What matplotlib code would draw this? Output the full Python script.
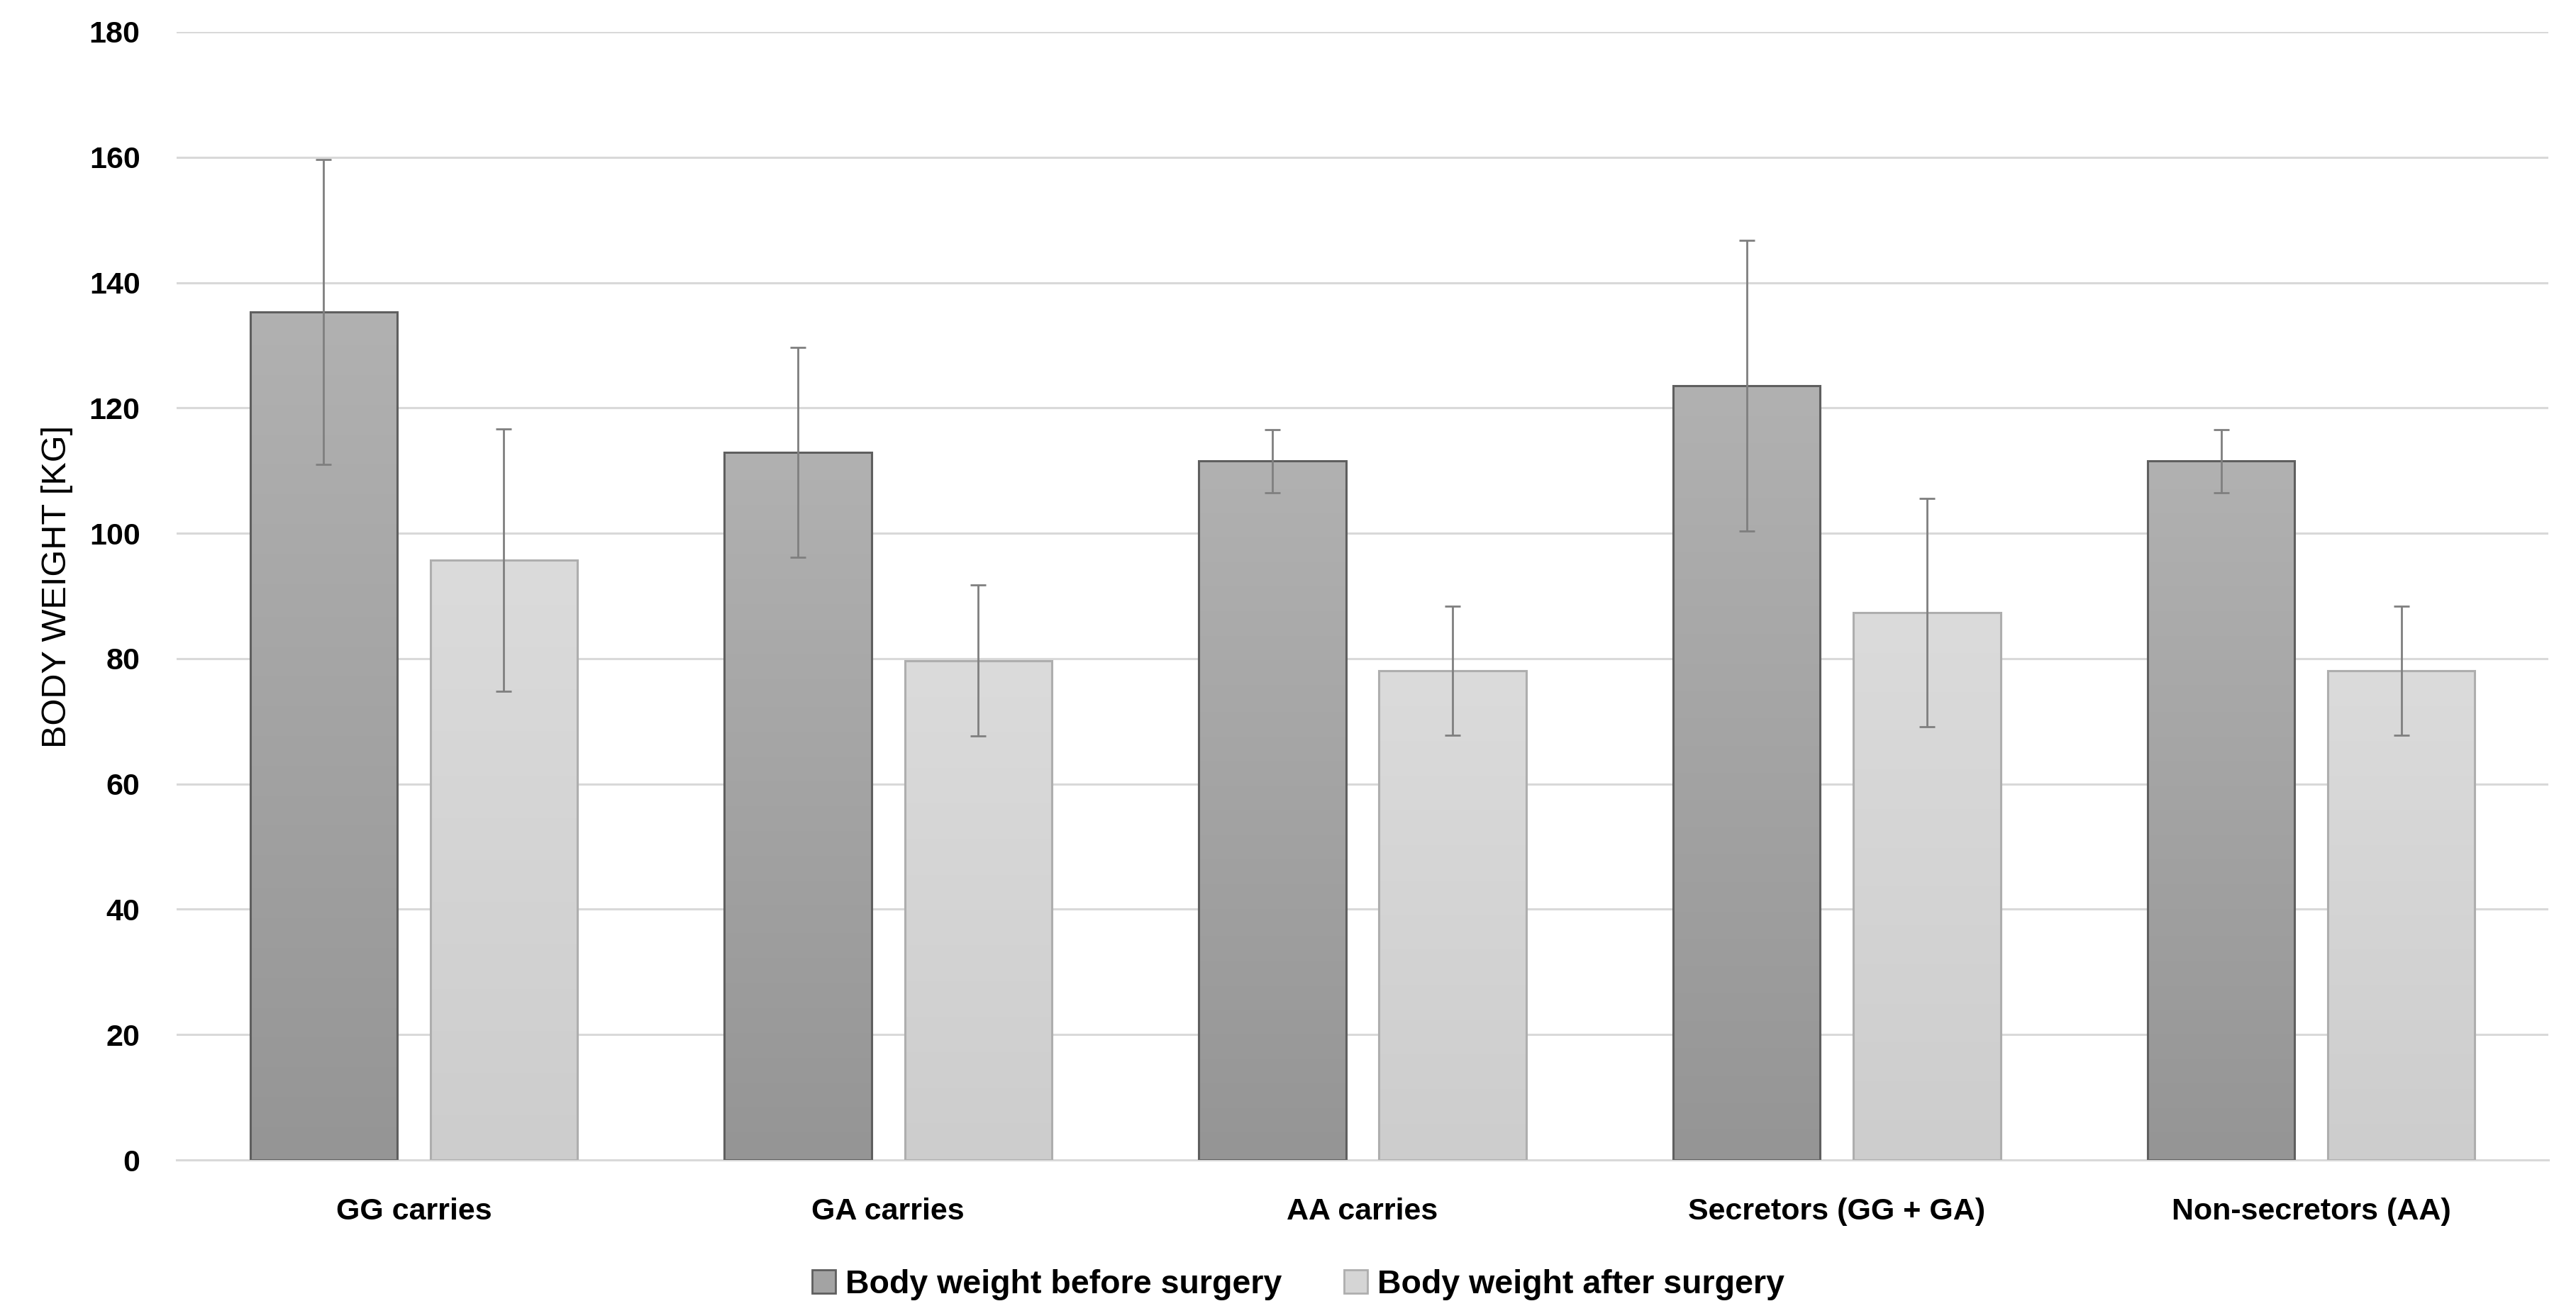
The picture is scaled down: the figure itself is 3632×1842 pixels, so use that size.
import numpy as np
import matplotlib
matplotlib.use('Agg')
import matplotlib.pyplot as plt
from matplotlib.colors import LinearSegmentedColormap
from matplotlib.patches import Patch

plt.rcParams['font.family'] = ['Liberation Sans Narrow', 'Liberation Sans', 'DejaVu Sans']

# data
categories = ['GG carries', 'GA carries', 'AA carries', 'Secretors (GG + GA)', 'Non-secretors (AA)']
before_mean = [135.3, 112.9, 111.5, 123.5, 111.5]
before_sd = [24.3, 16.7, 5.0, 23.2, 5.0]
after_mean = [95.7, 79.7, 78.1, 87.3, 78.1]
after_sd = [20.9, 12.0, 10.3, 18.2, 10.3]
legend_labels = ['Body weight before surgery', 'Body weight after surgery']
yticks = [0, 20, 40, 60, 80, 100, 120, 140, 160, 180]

fig = plt.figure(figsize=(36.32, 18.42), dpi=100)
ax = fig.add_axes([249 / 3632, 1 - 1636 / 1842, (3593 - 249) / 3632, (1636 - 45) / 1842])

x = np.arange(len(categories))
w = 0.31
off = 0.19

cm_before = LinearSegmentedColormap.from_list('b', ['#959595', '#b1b1b1'])
cm_after = LinearSegmentedColormap.from_list('a', ['#cdcdcd', '#dbdbdb'])

bars1 = ax.bar(x - off, before_mean, w, facecolor='none', edgecolor='#5f5f5f', linewidth=2.2, zorder=3)
bars2 = ax.bar(x + off, after_mean, w, facecolor='none', edgecolor='#aeaeae', linewidth=2.2, zorder=3)

# vertical gradient inside each bar
grad = np.linspace(0, 1, 256).reshape(-1, 1)
for bars, cm in [(bars1, cm_before), (bars2, cm_after)]:
    for b in bars:
        x0 = b.get_x()
        h = b.get_height()
        im = ax.imshow(grad, cmap=cm, origin='lower', aspect='auto',
                       extent=[x0, x0 + b.get_width(), 0, h], zorder=2)
        im.set_clip_path(b)

ax.errorbar(x - off, before_mean, yerr=before_sd, fmt='none', ecolor='#7f7f7f',
            elinewidth=2, capsize=8, capthick=2, zorder=4)
ax.errorbar(x + off, after_mean, yerr=after_sd, fmt='none', ecolor='#7f7f7f',
            elinewidth=2, capsize=8, capthick=2, zorder=4)

ax.set_xlim(-0.5, len(categories) - 0.5)
ax.set_ylim(0, 180)
ax.set_yticks(yticks)
ax.set_xticks(x)
ax.set_xticklabels(categories, fontsize=31, fontweight='bold')
ax.set_yticklabels([str(t) for t in yticks], fontsize=31, fontweight='bold')
ax.tick_params(axis='both', length=0)
ax.tick_params(axis='y', pad=37)
ax.tick_params(axis='x', pad=38)

ax.grid(axis='y', color='#d9d9d9', linewidth=2.2, zorder=0)
ax.set_axisbelow(True)
for s in ['top', 'right', 'left']:
    ax.spines[s].set_visible(False)
ax.spines['bottom'].set_color('#d9d9d9')
ax.spines['bottom'].set_linewidth(2.2)

fig.text(81 / 3632, 1 - 827 / 1842, 'BODY WEIGHT [KG]', rotation=90, fontsize=35,
         ha='center', va='center', family=['Liberation Sans', 'DejaVu Sans'])

handles = [Patch(facecolor='#a3a3a3', edgecolor='#5f5f5f', linewidth=2),
           Patch(facecolor='#d5d5d5', edgecolor='#aeaeae', linewidth=2)]
fig.legend(handles, legend_labels, loc='center', bbox_to_anchor=(0.504, 1 - 1812 / 1842),
           ncol=2, frameon=False, prop={'size': 33.5, 'weight': 'bold'},
           handlelength=0.7, handleheight=0.7, handletextpad=0.3, columnspacing=1.9)

fig.savefig('out.png', dpi=100)
